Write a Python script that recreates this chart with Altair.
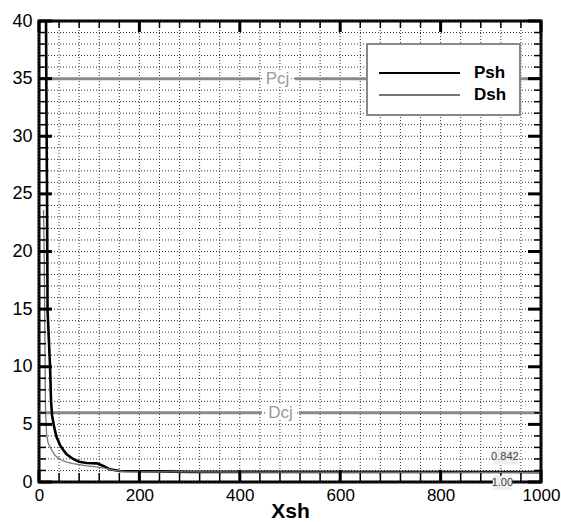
import altair as alt
import pandas as pd

# ---- data ----
psh_x = [14, 15, 16, 17, 20, 22, 24, 26, 30, 35, 42, 48, 55, 68, 80, 95, 115, 125, 131, 141, 161, 240, 300, 1000]
psh_y = [40, 31.5, 25, 15, 12, 10, 7, 5.8, 4.8, 3.9, 3.2, 2.8, 2.4, 2.0, 1.75, 1.65, 1.62, 1.45, 1.33, 1.1, 0.95, 0.92, 0.88, 0.86]
dsh_x = [9, 10, 11, 12, 12.5, 13, 15, 18, 25, 32, 42, 55, 68, 95, 110, 130, 150, 170, 300, 1000]
dsh_y = [23.6, 21, 16, 11, 8, 6.2, 4.2, 3.4, 2.8, 2.3, 1.95, 1.72, 1.6, 1.39, 1.33, 1.2, 1.0, 0.9, 0.87, 0.84]

series_names = ["Psh", "Dsh"]
series_colors = ["#000000", "#777777"]
series_widths = [2.6, 1.3]

ref_names = ["Pcj", "Dcj"]
ref_values = [35, 6]
ref_seg_start = [[0, 510], [0, 518]]
ref_seg_end = [[440, 1000], [444, 1000]]
ref_label_x = [475, 481]

x_grid = list(range(0, 1001, 40))
y_grid = list(range(0, 41, 1))
x_major = list(range(0, 1001, 200))
y_major = list(range(0, 41, 5))

ann_text = ["0.842", "1.00"]
ann_x = [928, 923]
ann_y = [2.17, -0.09]
ann_x1 = [904, 904]
ann_x2 = [954, 942]
ann_y1 = [1.55, 0.55]
ann_y2 = [2.8, -0.7]

W, H = 502, 461

curves = pd.DataFrame(
    {"x": psh_x + dsh_x,
     "y": psh_y + dsh_y,
     "series": ["Psh"] * len(psh_x) + ["Dsh"] * len(dsh_x),
     "o": list(range(len(psh_x))) + list(range(len(dsh_x)))}
)

seg_rows = []
for n, v, s, e in zip(ref_names, ref_values, ref_seg_start, ref_seg_end):
    for a, b in zip(s, e):
        seg_rows.append({"name": n, "y": v, "x": a, "x2": b})
segs = pd.DataFrame(seg_rows)
reflabels = pd.DataFrame({"name": ref_names, "y": ref_values, "x": ref_label_x})

xg = pd.DataFrame({"x": x_grid, "major": [v in x_major for v in x_grid]})
yg = pd.DataFrame({"y": y_grid, "major": [v in y_major for v in y_grid]})
ann = pd.DataFrame({"t": ann_text, "x": ann_x, "y": ann_y, "x1": ann_x1, "x2": ann_x2, "y1": ann_y1, "y2": ann_y2})
leg = pd.DataFrame({"series": series_names, "row": [0, 1]})

xscale = alt.Scale(domain=[0, 1000], nice=False)
yscale = alt.Scale(domain=[0, 40], nice=False)

def X(field, **kw):
    return alt.X(field, scale=xscale, axis=None, **kw)

def Y(field, **kw):
    return alt.Y(field, scale=yscale, axis=None, **kw)

x_axis = alt.Axis(orient="bottom", values=x_major, format="d", grid=False, ticks=False, domain=False,
                  labelOverlap=False,
                  labelFont="Liberation Sans", labelFontSize=17, labelColor="black",
                  labelPadding=5, labelFlush=False, title="Xsh", titleFont="Liberation Sans",
                  titleFontSize=21, titleFontWeight="bold", titleColor="black", titlePadding=-3)
y_axis = alt.Axis(orient="left", values=y_major, format="d", grid=False, ticks=False, domain=False,
                  labelOverlap=False,
                  labelFont="Liberation Sans", labelFontSize=18, labelColor="black",
                  labelPadding=7, labelFlush=False, title=None)

# gridlines (dotted)
vgrid = alt.Chart(xg).mark_rule(color="#333", strokeWidth=1, strokeDash=[1, 2]).encode(
    x=alt.X("x:Q", scale=xscale, axis=x_axis),
    y=alt.value(0), y2=alt.value(H),
)
hgrid = alt.Chart(yg).mark_rule(color="#333", strokeWidth=1, strokeDash=[1, 2]).encode(
    y=alt.Y("y:Q", scale=yscale, axis=y_axis),
    x=alt.value(0), x2=alt.value(W),
)

ref_lines = alt.Chart(segs).mark_rule(color="#8a8a8a", strokeWidth=3).encode(
    x=X("x:Q"), x2="x2:Q", y=Y("y:Q")
)
ref_halo = alt.Chart(reflabels).mark_text(color="white", stroke="white", strokeWidth=6,
                                          font="Liberation Sans", fontSize=17).encode(
    x=X("x:Q"), y=Y("y:Q"), text="name:N"
)
ref_text = alt.Chart(reflabels).mark_text(color="#9a9a9a", font="Liberation Sans", fontSize=17).encode(
    x=X("x:Q"), y=Y("y:Q"), text="name:N"
)

cscale = alt.Scale(domain=series_names, range=series_colors)
wscale = alt.Scale(domain=series_names, range=series_widths)

lines = alt.Chart(curves).mark_line().encode(
    x=X("x:Q"),
    y=Y("y:Q"),
    order="o:Q",
    color=alt.Color("series:N", scale=cscale, legend=None),
    strokeWidth=alt.StrokeWidth("series:N", scale=wscale, legend=None),
)

def ticks_y(major, x0, x1, w):
    d = yg[yg["major"] == major]
    return alt.Chart(d).mark_rule(color="black", strokeWidth=w).encode(
        y=Y("y:Q"), x=alt.value(x0), x2=alt.value(x1)
    )

def ticks_x(major, y0, y1, w):
    d = xg[xg["major"] == major]
    return alt.Chart(d).mark_rule(color="black", strokeWidth=w).encode(
        x=X("x:Q"), y=alt.value(y0), y2=alt.value(y1)
    )

tick_layers = [
    ticks_y(False, 0, 7, 1.5), ticks_y(True, 0, 13, 3),
    ticks_y(False, W, W - 7, 1.5), ticks_y(True, W, W - 13, 3),
    ticks_x(False, H, H - 9, 1.5), ticks_x(True, H, H - 12, 3),
    ticks_x(False, 0, 7, 1.5), ticks_x(True, 0, 11, 3),
]

ann_bg = alt.Chart(ann).mark_rect(color="#eeeeee").encode(
    x=X("x1:Q"), x2="x2:Q", y=Y("y1:Q"), y2="y2:Q"
)
ann_txt = alt.Chart(ann).mark_text(color="#444", font="Liberation Sans", fontSize=11).encode(
    x=X("x:Q"), y=Y("y:Q"), text="t:N"
)

# legend box (drawn in the plot's pixel space)
leg_box = alt.Chart(leg).mark_rect(fill="white", stroke="#888", strokeWidth=2).encode(
    x=alt.value(328), x2=alt.value(481), y=alt.value(23), y2=alt.value(94)
).transform_filter("datum.row == 0")
leg_base = alt.Chart(leg).transform_calculate(py="52 + 22 * datum.row")
leg_lines = leg_base.mark_rule().encode(
    x=alt.value(340), x2=alt.value(421),
    y=alt.Y("py:Q", scale=None, axis=None),
    color=alt.Color("series:N", scale=cscale, legend=None),
    strokeWidth=alt.value(2),
)
leg_text = leg_base.mark_text(align="left", baseline="middle", font="Liberation Sans",
                              fontSize=17, fontWeight="bold", color="black").encode(
    x=alt.value(435),
    y=alt.Y("py:Q", scale=None, axis=None),
    text="series:N",
)

chart = alt.layer(vgrid, hgrid, ref_lines, ref_halo, ref_text, lines, *tick_layers,
                  ann_bg, ann_txt, leg_box, leg_lines, leg_text).properties(
    width=W, height=H,
    autosize=alt.AutoSizeParams(type="none"),
    padding={"left": 39, "top": 21, "right": 20, "bottom": 40},
    background="white",
).resolve_axis(x="independent", y="independent").configure_view(stroke="black", strokeWidth=3)

chart.save("out.html", embed_options={"renderer": "svg", "actions": False})
